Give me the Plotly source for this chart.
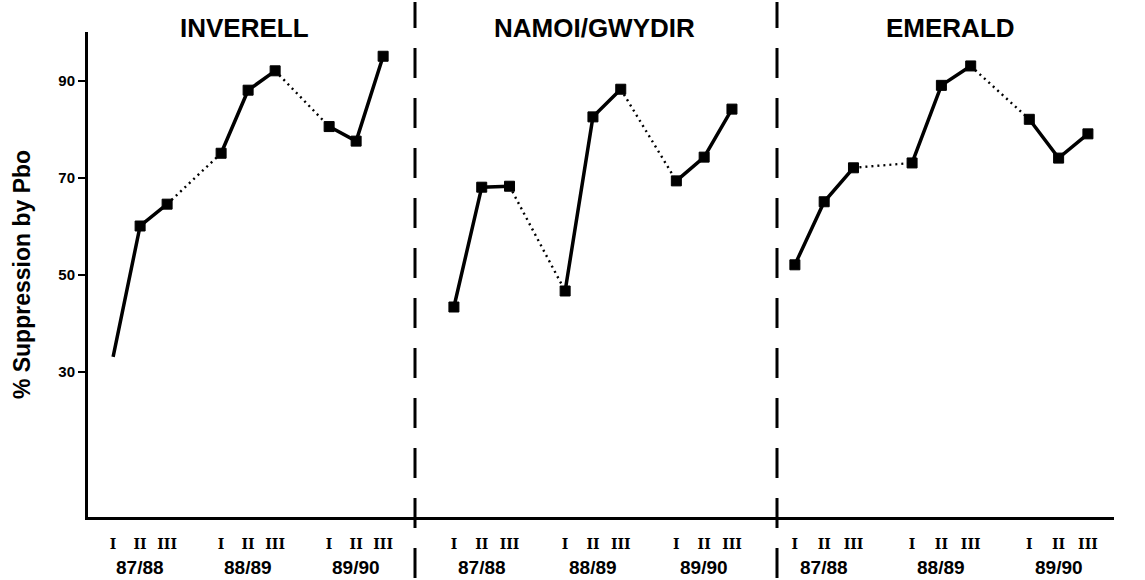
import plotly.graph_objects as go

# ---- data ----
sites = ["INVERELL", "NAMOI/GWYDIR", "EMERALD"]
seasons = ["87/88", "88/89", "89/90"]
stages = ["I", "II", "III"]
inverell = [33, 60, 64.5, 75, 88, 92, 80.5, 77.5, 95]
namoi = [43.3, 68, 68.2, 46.6, 82.5, 88.2, 69.3, 74.2, 84.1]
emerald = [52, 65, 72, 73, 89, 93, 82, 74, 79]
site_values = [inverell, namoi, emerald]
first_marker_hidden = [True, False, False]
y_ticks = [30, 50, 70, 90]

# ---- layout constants ----
W, H = 1145, 580
ML, MR, MT, MB = 88, 31, 32, 63
plot_w = W - ML - MR
plot_h = H - MT - MB
div_px = [415, 777]
domains = [[0, (div_px[0] - ML) / plot_w],
           [(div_px[0] - ML) / plot_w, (div_px[1] - ML) / plot_w],
           [(div_px[1] - ML) / plot_w, 1]]
x_ranges = [[-0.93, 11.18], [-1.40, 11.62], [-0.61, 10.89]]
title_x = [0.153, 0.494, 0.841]

BLACK = "#000000"
SANS = "Liberation Sans, Arial, sans-serif"
SERIF = "DejaVu Serif, Liberation Serif, serif"

fig = go.Figure()

positions = [4 * s + k for s in range(len(seasons)) for k in range(len(stages))]
tick_text = [st for _ in seasons for st in stages]

for p, vals in enumerate(site_values):
    xa = "x" if p == 0 else f"x{p + 1}"
    # solid segments within a season
    for s in range(len(seasons)):
        xs = positions[3 * s:3 * s + 3]
        ys = vals[3 * s:3 * s + 3]
        sizes = [10, 10, 10]
        if s == 0 and first_marker_hidden[p]:
            sizes[0] = 0
        fig.add_trace(go.Scatter(
            x=xs, y=ys, xaxis=xa, yaxis="y", mode="lines+markers",
            line=dict(color=BLACK, width=3.5),
            marker=dict(symbol="square", size=sizes, color=BLACK,
                        opacity=1, line=dict(width=1, color=BLACK)),
            showlegend=False, hoverinfo="x+y"))
    # dotted connectors between seasons
    for s in range(len(seasons) - 1):
        i0, i1 = 3 * s + 2, 3 * s + 3
        fig.add_trace(go.Scatter(
            x=[positions[i0], positions[i1]], y=[vals[i0], vals[i1]],
            xaxis=xa, yaxis="y", mode="lines",
            line=dict(color=BLACK, width=2.4, dash="2px,4px"),
            showlegend=False, hoverinfo="skip"))

layout = dict(
    width=W, height=H,
    margin=dict(l=ML, r=MR, t=MT, b=MB, autoexpand=False),
    paper_bgcolor="white", plot_bgcolor="white",
    showlegend=False,
    yaxis=dict(range=[0, 100], tickvals=y_ticks, ticks="outside", ticklen=7,
               tickwidth=2, tickcolor=BLACK, showline=True, linewidth=3,
               linecolor=BLACK, showgrid=False, zeroline=False,
               automargin=False,
               tickfont=dict(family=SANS, size=15, color=BLACK, weight="bold"),
               anchor="x",
               title=dict(text="% Suppression by Pbo", standoff=22,
                          font=dict(family=SANS, size=23, color=BLACK,
                                    weight="bold"))),
    yaxis2=dict(range=[0, 100], tickvals=y_ticks, ticks="outside", ticklen=6,
                tickwidth=2, tickcolor=BLACK, showline=True, linewidth=3,
                linecolor=BLACK, showgrid=False, zeroline=False,
                automargin=False,
                overlaying="y", side="right", anchor="x3",
                tickfont=dict(family=SANS, size=15, color=BLACK, weight="bold")),
)
for p in range(3):
    key = "xaxis" if p == 0 else f"xaxis{p + 1}"
    layout[key] = dict(domain=domains[p], range=x_ranges[p], anchor="y",
                       tickvals=positions, ticktext=tick_text, ticks="",
                       ticklabelstandoff=12, automargin=False,
                       tickfont=dict(family=SERIF, size=14, color=BLACK, weight="bold"),
                       showline=True, linewidth=3, linecolor=BLACK,
                       showgrid=False, zeroline=False)
fig.update_layout(**layout)

# Panel titles
for p, name in enumerate(sites):
    fig.add_annotation(x=title_x[p], y=1.008, xref="paper", yref="paper",
                       text=f"<b>{name}</b>", showarrow=False,
                       xanchor="center", yanchor="middle",
                       font=dict(family=SANS, size=26, color=BLACK))

# Season labels
for p in range(3):
    xr = "x" if p == 0 else f"x{p + 1}"
    for s, lab in enumerate(seasons):
        fig.add_annotation(x=4 * s + 1, y=-(567 - (H - MB)) / plot_h,
                           xref=xr, yref="paper", text=f"<b>{lab}</b>",
                           showarrow=False, xanchor="center", yanchor="middle",
                           font=dict(family=SANS, size=19, color=BLACK))

# Dashed dividers
for d in domains[1:]:
    fig.add_shape(type="line", xref="paper", yref="paper",
                  x0=d[0], x1=d[0], y0=-(MB - 2) / plot_h,
                  y1=1 + (MT - 2) / plot_h,
                  line=dict(color=BLACK, width=3, dash="30px,20px"))

fig.write_html("out.html", config={"displayModeBar": False},
               post_script="document.body.style.margin='0';"
                           "document.body.style.overflow='hidden';")
